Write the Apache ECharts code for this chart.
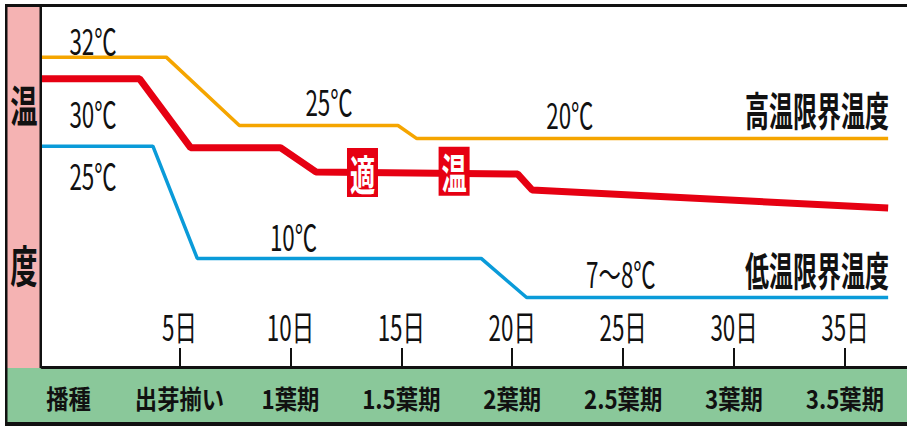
<!DOCTYPE html>
<html><head><meta charset="utf-8">
<script src="https://cdn.jsdelivr.net/npm/echarts@6/dist/echarts.min.js"></script>
<style>html,body{margin:0;padding:0;background:#fff}#c{width:907px;height:426px}</style>
</head><body><div id="c"></div>
<script>
// ---- data (schematic levels; y axis is a 0–100 position scale) ----
const highDays   = [-1.2, 4.4, 7.7, 14.85, 15.7, 36.95];
const highLevels = [85.6, 85.6, 66.7, 66.7, 63.1, 63.1];
const optDays    = [-1.2, 3.2, 5.5, 9.55, 11.15, 20.25, 20.9, 36.95];
const optLevels  = [79.6, 79.6, 60.6, 60.6, 53.9, 53.3, 48.9, 43.9];
const lowDays    = [-1.2, 3.8, 5.8, 18.6, 20.65, 36.95];
const lowLevels  = [61.0, 61.0, 30.0, 30.0, 19.2, 19.2];
const dayTicks   = [5, 10, 15, 20, 25, 30, 35];
const stageTicks = [0, 5, 10, 15, 20, 25, 30, 35];
const stageNames = ['播種', '出芽揃い', '1葉期', '1.5葉期', '2葉期', '2.5葉期', '3葉期', '3.5葉期'];
const tempLabels = ['32℃', '30℃', '25℃', '25℃', '20℃', '10℃', '7〜8℃'];
const tempDays   = [1.1, 1.1, 1.1, 11.74, 22.6, 10.14, 24.9];
const tempLevels = [90.6, 70.4, 53.2, 73.6, 70.0, 36.2, 26.0];
const limitNames = ['高温限界温度', '低温限界温度'];
const limitLevels = [71.5, 27.3];
const tagChars   = ['適', '温'];
const tagDays    = [13.25, 17.38];
const tagLevels  = [53.7, 54.1];

const CJK = "'Noto Sans CJK JP','Noto Sans CJK SC',sans-serif";
const ORANGE = '#F5A500', RED = '#E60012', BLUE = '#0A9BD9';
// horizontal condensing per font size (the original uses a condensed gothic face)
const SCALE = {35: 0.64, 26: 0.86, 40: 0.6, 42: 0.6};

const pairs = (xs, ys) => xs.map((x, i) => [x, ys[i]]);
const tempStyle = {fontFamily: CJK, fontSize: 35, color: '#111'};

const chart = echarts.init(document.getElementById('c'), null, {renderer: 'svg'});
const option = {
  backgroundColor: '#fff',
  animation: false,
  grid: {left: 42, right: 0, top: 5, bottom: 59},
  xAxis: [
    { type: 'value', min: -1.2, max: 37.8, position: 'bottom',
      splitLine: {show: false},
      axisLine: {show: true, onZero: false, lineStyle: {color: '#111', width: 3}},
      axisTick: {show: false},
      axisLabel: {show: true, customValues: stageTicks, margin: 18,
        formatter: v => stageNames[stageTicks.indexOf(v)],
        fontFamily: CJK, fontSize: 26, fontWeight: 'bold', color: '#111'}
    },
    { type: 'value', min: -1.2, max: 37.8, position: 'bottom', offset: 0,
      splitLine: {show: false},
      axisLine: {show: false, onZero: false},
      axisTick: {show: true, inside: true, length: 19, customValues: dayTicks, lineStyle: {color: '#111', width: 2}},
      axisLabel: {show: true, inside: true, customValues: dayTicks, margin: 24,
        formatter: v => v + '日', fontFamily: CJK, fontSize: 35, color: '#111'}
    }
  ],
  yAxis: {type: 'value', min: 0, max: 100, show: false, splitLine: {show: false}},
  graphic: [
    {type: 'rect', z: -10, shape: {x: 0, y: 0, width: 907, height: 426}, style: {fill: '#fff'}},
    {type: 'rect', z: -5, shape: {x: 7, y: 6, width: 34, height: 362}, style: {fill: '#F5B3B3'}},
    {type: 'rect', z: -5, shape: {x: 7, y: 368, width: 900, height: 55}, style: {fill: '#8AC89A'}},
    {type: 'rect', z: 50, shape: {x: 5, y: 4, width: 902, height: 3}, style: {fill: '#111'}},
    {type: 'rect', z: 50, shape: {x: 5, y: 4, width: 2.5, height: 422}, style: {fill: '#111'}},
    {type: 'rect', z: 50, shape: {x: 39.5, y: 4, width: 2.5, height: 364}, style: {fill: '#111'}},
    {type: 'rect', z: 50, shape: {x: 5, y: 422, width: 902, height: 4}, style: {fill: '#111'}},
    {type: 'text', z: 50, x: 24, y: 104, scaleX: 0.62, style: {text: '温', x: 0, y: 0, align: 'center', verticalAlign: 'middle', fontFamily: CJK, fontSize: 44, fontWeight: 'bold', fill: '#111'}},
    {type: 'text', z: 50, x: 24, y: 264, scaleX: 0.62, style: {text: '度', x: 0, y: 0, align: 'center', verticalAlign: 'middle', fontFamily: CJK, fontSize: 44, fontWeight: 'bold', fill: '#111'}}
  ],
  series: [
    { type: 'line', name: '高温限界温度', data: pairs(highDays, highLevels), showSymbol: false, clip: false,
      lineStyle: {color: ORANGE, width: 3.5}, z: 3,
      markPoint: {symbol: 'circle', symbolSize: 0, silent: true,
        data: [3, 4].map(i => ({coord: [tempDays[i], tempLevels[i]], value: tempLabels[i]}))
          .concat([{coord: [36.99, limitLevels[0]], value: limitNames[0],
                    label: {position: 'left', distance: 0, fontSize: 40, fontWeight: 'bold'}}]),
        label: Object.assign({show: true, position: 'inside', formatter: p => p.value}, tempStyle)}
    },
    { type: 'line', name: '低温限界温度', data: pairs(lowDays, lowLevels), showSymbol: false, clip: false,
      lineStyle: {color: BLUE, width: 3.5}, z: 3,
      markPoint: {symbol: 'circle', symbolSize: 0, silent: true,
        data: [2, 5, 6].map(i => ({coord: [tempDays[i], tempLevels[i]], value: tempLabels[i]}))
          .concat([{coord: [36.99, limitLevels[1]], value: limitNames[1],
                    label: {position: 'left', distance: 0, fontSize: 40, fontWeight: 'bold'}}]),
        label: Object.assign({show: true, position: 'inside', formatter: p => p.value}, tempStyle)}
    },
    { type: 'line', name: '適温', data: pairs(optDays, optLevels), showSymbol: false, clip: false,
      lineStyle: {color: RED, width: 7}, z: 4,
      markPoint: {silent: true,
        data: [0, 1].map(i => ({coord: [tempDays[i], tempLevels[i]], value: tempLabels[i], symbolSize: 0,
                 label: Object.assign({position: 'inside', formatter: p => p.value}, tempStyle)}))
          .concat(tagChars.map((t, i) => ({coord: [tagDays[i], tagLevels[i]], value: t, symbol: 'rect', symbolSize: [31, 49],
                 itemStyle: {color: RED},
                 label: {position: 'inside', formatter: t, fontFamily: CJK, fontSize: 42, fontWeight: 'bold', color: '#fff'}}))),
        label: {show: true}}
    }
  ]
};
chart.setOption(option);

// condense the text horizontally, like the narrow typeface of the original
(function condense() {
  const zr = chart.getZr();
  const apply = el => {
    if (!el || el.type !== 'text' || !el.style) return;
    const s = SCALE[Number(el.style.fontSize)];
    if (s) { el.scaleX = s; el.markRedraw(); }
  };
  const walk = el => {
    apply(el);
    if (el.getTextContent) apply(el.getTextContent());
    if (el.isGroup) el.eachChild(walk);
  };
  zr.storage.getRoots().forEach(walk);
  zr.refreshImmediately();
})();
</script></body></html>
